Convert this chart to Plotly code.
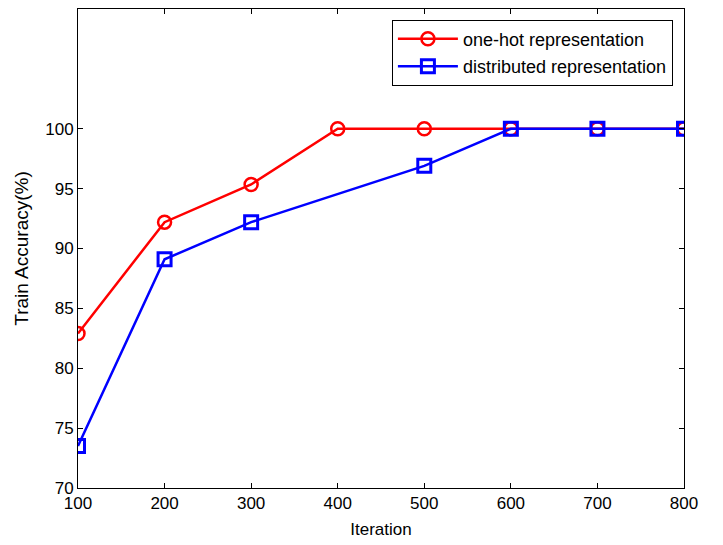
import plotly.graph_objects as go

iterations = [100, 200, 300, 400, 500, 600, 700, 800]
onehot_acc = [82.9, 92.2, 95.35, 100, 100, 100, 100, 100]
dist_iter = [100, 200, 300, 500, 600, 700, 800]
dist_acc = [73.5, 89.1, 92.2, 96.9, 100, 100, 100]
x_ticks = [100, 200, 300, 400, 500, 600, 700, 800]
y_ticks = [70, 75, 80, 85, 90, 95, 100]

font_family = "Liberation Sans, Arial, sans-serif"

fig = go.Figure()
fig.add_trace(go.Scatter(
    x=iterations, y=onehot_acc, mode="lines+markers",
    name="one-hot representation", legendgroup="a",
    line=dict(color="#ff0000", width=2.5),
    marker=dict(symbol="circle-open", size=13, color="#ff0000", line=dict(width=2.5)),
))
fig.add_trace(go.Scatter(
    x=dist_iter, y=dist_acc, mode="lines+markers",
    name="distributed representation", legendgroup="b",
    line=dict(color="#0000ff", width=2.5),
    marker=dict(symbol="square-open", size=13, color="#0000ff", line=dict(width=3)),
))

axis_common = dict(
    showgrid=False, zeroline=False, showline=True, linecolor="black", linewidth=1,
    mirror="ticks", ticks="inside", ticklen=5, tickcolor="black",
    tickfont=dict(family=font_family, size=17, color="black"),
)
fig.update_xaxes(range=[100, 800], tickvals=x_ticks,
                 title=dict(text="Iteration", font=dict(family=font_family, size=17, color="black"), standoff=10),
                 **axis_common)
fig.update_yaxes(range=[70, 110], tickvals=y_ticks,
                 title=dict(text="Train Accuracy(%)", font=dict(family=font_family, size=19, color="black"), standoff=11),
                 **axis_common)

fig.update_layout(
    width=723, height=545,
    margin=dict(l=70, r=47, t=1, b=65),
    plot_bgcolor="white", paper_bgcolor="white",
    font=dict(family=font_family, size=17, color="black"),
    legend=dict(x=0.518, y=0.978, xanchor="left", yanchor="top",
                bordercolor="black", borderwidth=1, bgcolor="white",
                font=dict(family=font_family, size=18, color="black"),
                tracegroupgap=1, itemwidth=60, traceorder="grouped"),
    showlegend=True,
)

fig.write_html("out.html")
